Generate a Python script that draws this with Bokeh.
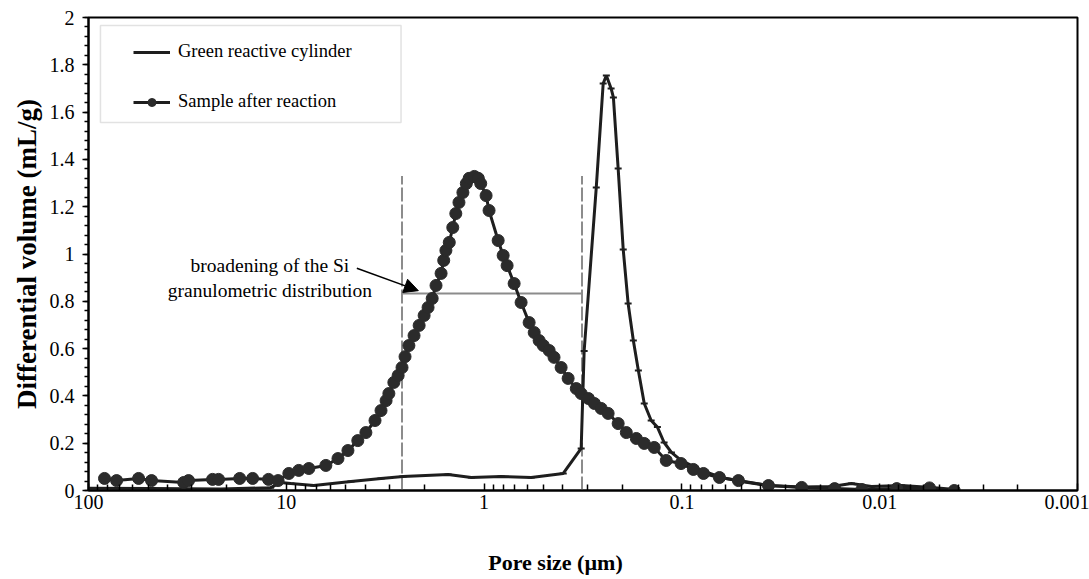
from bokeh.plotting import figure
from bokeh.models import (Range1d, FixedTicker, SingleIntervalTicker, CustomJSTickFormatter,
                          Legend, LegendItem, Arrow, NormalHead, Label, BoxAnnotation)
from bokeh.embed import file_html
from bokeh.resources import INLINE

# Pore size distribution data (pore size in µm, differential volume in mL/g)
green_size = [100, 48.5, 21.4, 12.0, 10.66, 9.49, 7.26, 4.71, 3.32, 2.57, 1.52, 1.16, 0.82,
              0.578, 0.398, 0.323, 0.312, 0.271, 0.250, 0.241, 0.228, 0.222, 0.210, 0.198,
              0.187, 0.176, 0.166, 0.155, 0.143, 0.133, 0.123, 0.113, 0.101, 0.0796, 0.0631,
              0.050, 0.0365, 0.0248, 0.0175, 0.0139, 0.011, 0.00775, 0.00546, 0.0043]
green_vol = [0.010, 0.008, 0.006, 0.012, 0.034, 0.030, 0.021, 0.038, 0.051, 0.059, 0.068,
             0.055, 0.059, 0.055, 0.072, 0.178, 0.59, 1.281, 1.721, 1.755, 1.700, 1.662,
             1.361, 1.019, 0.791, 0.634, 0.507, 0.368, 0.296, 0.268, 0.203, 0.161, 0.127,
             0.085, 0.055, 0.038, 0.021, 0.015, 0.017, 0.030, 0.017, 0.021, 0.013, 0.005]

sample_size = [83.0, 72.1, 55.8, 48.0, 33.0, 31.2, 23.6, 22.0, 17.2, 14.8, 12.3, 11.0, 9.71,
               8.65, 7.69, 6.31, 5.48, 4.88, 4.35, 3.96, 3.56, 3.32, 3.13, 3.03, 2.86, 2.72,
               2.60, 2.51, 2.40, 2.26, 2.13, 2.01, 1.92, 1.83, 1.75, 1.65, 1.60, 1.56, 1.50,
               1.44, 1.39, 1.34, 1.28, 1.23, 1.19, 1.12, 1.07, 1.04, 0.977, 0.944, 0.849,
               0.801, 0.765, 0.705, 0.650, 0.592, 0.558, 0.527, 0.502, 0.469, 0.443, 0.408,
               0.376, 0.342, 0.323, 0.297, 0.277, 0.256, 0.236, 0.210, 0.191, 0.170, 0.155,
               0.138, 0.120, 0.101, 0.0875, 0.0778, 0.0646, 0.0518, 0.0365, 0.0248, 0.0169,
               0.0123, 0.0082, 0.0056, 0.0042]
sample_vol = [0.051, 0.042, 0.051, 0.042, 0.034, 0.042, 0.047, 0.047, 0.051, 0.051, 0.047,
              0.042, 0.072, 0.085, 0.093, 0.106, 0.135, 0.169, 0.211, 0.245, 0.296, 0.338,
              0.380, 0.410, 0.457, 0.486, 0.520, 0.566, 0.613, 0.655, 0.698, 0.740, 0.774,
              0.812, 0.867, 0.918, 0.973, 1.015, 1.049, 1.112, 1.171, 1.218, 1.260, 1.298,
              1.320, 1.328, 1.320, 1.298, 1.247, 1.184, 1.057, 0.994, 0.951, 0.875, 0.795,
              0.710, 0.668, 0.634, 0.613, 0.592, 0.563, 0.520, 0.474, 0.431, 0.410, 0.389,
              0.368, 0.347, 0.326, 0.283, 0.245, 0.220, 0.199, 0.182, 0.127, 0.114, 0.089,
              0.072, 0.055, 0.042, 0.021, 0.013, 0.008, 0.004, 0.008, 0.011, 0.0]

series_names = ["Green reactive cylinder", "Sample after reaction"]

# Bounds of the broadened Si distribution (µm) and the level of the bracket
broad_left = 2.6
broad_right = 0.32
broad_top = 1.33
broad_level = 0.833
note_lines = ["broadening of the Si", "granulometric distribution"]

x_major = [100, 10, 1, 0.1, 0.01, 0.001]
x_minor = [m * 10.0 ** k for k in range(-3, 2) for m in range(2, 10)]

FONT = "Liberation Serif"
INK = "#1e1e1e"
GREY = "#8c8c8c"

p = figure(width=1089, height=579, output_backend="svg", toolbar_location=None,
           x_axis_type="log", x_range=Range1d(100, 0.001), y_range=Range1d(0, 2),
           min_border_left=88, min_border_right=12, min_border_top=17, min_border_bottom=89)
p.xgrid.visible = False
p.ygrid.visible = False
p.outline_line_color = "black"
p.outline_line_width = 2
p.background_fill_color = "white"
p.border_fill_color = "white"

# x axis: reversed log scale, ticks pointing into the plot
xa = p.xaxis[0]
xa.ticker = FixedTicker(ticks=x_major, minor_ticks=x_minor)
xa.formatter = CustomJSTickFormatter(code="return tick.toString();")
xa.major_tick_in = 7
xa.major_tick_out = 0
xa.minor_tick_in = 6
xa.minor_tick_out = 0
xa.major_label_standoff = 4
# trailing no-break spaces nudge the centred title a little to the left
xa.axis_label = "Pore size (µm)" + "\u00a0" * 10
xa.axis_label_standoff = 38
xa.axis_label_text_font_size = "22px"

ya = p.yaxis[0]
ya.ticker = SingleIntervalTicker(interval=0.2, num_minor_ticks=5)
ya.formatter = CustomJSTickFormatter(code="return parseFloat(tick.toFixed(1)).toString();")
ya.major_tick_in = 0
ya.major_tick_out = 6
ya.minor_tick_in = 0
ya.minor_tick_out = 4
ya.major_label_standoff = 8
ya.axis_label = "Differential volume (mL/g)"
ya.axis_label_standoff = 5
ya.axis_label_text_font_size = "27px"

for ax in (xa, ya):
    ax.axis_line_color = "black"
    ax.axis_line_width = 2
    ax.major_tick_line_color = "black"
    ax.minor_tick_line_color = "black"
    ax.major_tick_line_width = 1.5
    ax.minor_tick_line_width = 1.5
    ax.major_label_text_font = FONT
    ax.major_label_text_font_size = "20px"
    ax.major_label_text_color = "black"
    ax.axis_label_text_font = FONT
    ax.axis_label_text_font_style = "bold"
    ax.axis_label_text_color = "black"

# Bracket marking the broadening of the distribution
p.segment(x0=[broad_left, broad_right], y0=[0, 0], x1=[broad_left, broad_right],
          y1=[broad_top, broad_top], line_color=GREY, line_width=2, line_dash="14 3")
p.segment(x0=[broad_left], y0=[broad_level], x1=[broad_right], y1=[broad_level],
          line_color=GREY, line_width=2)

# Series
g_line = p.line(green_size, green_vol, line_color=INK, line_width=3)
g_mark = p.scatter(green_size, green_vol, marker="dash", size=7, line_color=INK, line_width=2)
s_line = p.line(sample_size, sample_vol, line_color=INK, line_width=3)
s_mark = p.scatter(sample_size, sample_vol, marker="circle", size=12,
                   fill_color="#2b2b2b", line_color="#2b2b2b")

# Annotation text and arrow
for txt, yv in zip(note_lines, [0.951, 0.846]):
    p.add_layout(Label(x=12.1, y=yv, text=txt, text_font=FONT, text_font_size="19.5px",
                       text_align="center", text_baseline="middle", text_color="black"))
p.add_layout(Arrow(x_start=4.4, y_start=0.94, x_end=2.15, y_end=0.845,
                   line_color="black", line_width=1.5,
                   end=NormalHead(size=14, fill_color="black", line_color="black")))

# Legend frame, then the legend entries inside it
p.add_layout(BoxAnnotation(left=87.0, right=2.63, top=1.966, bottom=1.556,
                           fill_color="white", fill_alpha=1.0,
                           line_color="#a0a0a0", line_width=1.5))
legend = Legend(items=[LegendItem(label=series_names[0], renderers=[g_line]),
                       LegendItem(label=series_names[1], renderers=[s_line, s_mark])],
                location=(45, 378), padding=0, margin=0, spacing=29,
                label_height=20, glyph_height=20, glyph_width=37, label_standoff=8,
                label_text_font=FONT, label_text_font_size="18.5px",
                label_text_color="black", border_line_alpha=0, background_fill_alpha=0)
p.add_layout(legend)

open("out.html", "w").write(file_html(p, INLINE))
